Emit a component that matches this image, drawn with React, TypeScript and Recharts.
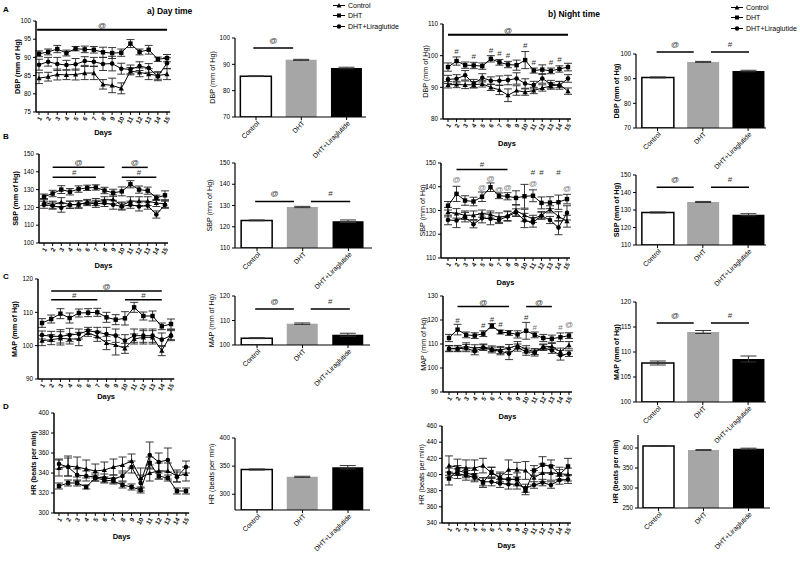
import React from 'react';
import {
  LineChart, Line, XAxis, YAxis, ErrorBar, ReferenceLine, ReferenceDot,
  BarChart, Bar, Cell, Legend,
} from 'recharts';

const FONT = '"Liberation Sans", Arial, Helvetica, sans-serif';

const days = [1, 2, 3, 4, 5, 6, 7, 8, 9, 10, 11, 12, 13, 14, 15];
const groups = ['Control', 'DHT', 'DHT+Liraglutide'];

// ---------- Day / night line data ----------
const dbpDayCtrl = [84.3, 84.7, 85.3, 85.2, 85.3, 85.7, 85.7, 82.6, 82.3, 81.5, 86.2, 85.9, 85.4, 85.0, 85.4];
const dbpDayDht = [91.0, 91.5, 92.3, 91.2, 92.4, 92.2, 92.1, 91.4, 91.2, 91.3, 93.8, 91.5, 92.1, 89.5, 89.8];
const dbpDayLira = [88.0, 88.8, 88.2, 87.9, 88.1, 89.0, 88.8, 88.2, 88.3, 86.9, 86.7, 87.6, 87.1, 84.8, 88.4];
const dbpDayCtrlE = [1.5, 1.2, 1.5, 1.3, 1.5, 1.8, 1.8, 1.3, 2.0, 1.5, 1.0, 1.2, 1.5, 1.0, 1.5];
const dbpDayDhtE = [0.8, 0.8, 1.0, 0.8, 0.6, 0.9, 0.9, 1.4, 1.5, 1.0, 1.1, 0.8, 1.2, 0.6, 1.0];
const dbpDayLiraE = [1.5, 1.2, 1.8, 1.3, 1.6, 1.2, 1.2, 1.8, 2.0, 1.5, 1.2, 1.2, 1.2, 1.2, 1.5];

const dbpNightCtrl = [90.8, 90.9, 90.8, 90.8, 91.1, 90.0, 89.2, 87.5, 89.0, 88.5, 89.0, 89.8, 90.4, 90.9, 88.8];
const dbpNightDht = [96.4, 98.3, 97.0, 96.9, 96.7, 99.0, 97.9, 97.2, 97.0, 98.6, 95.3, 95.6, 95.2, 95.8, 96.4];
const dbpNightLira = [92.5, 92.7, 93.8, 91.2, 93.0, 92.1, 92.1, 92.3, 92.8, 91.2, 90.7, 92.8, 91.0, 90.6, 92.8];
const dbpNightCtrlE = [1.0, 1.0, 1.2, 1.0, 1.0, 1.0, 1.5, 2.0, 1.5, 1.0, 1.0, 1.0, 1.0, 1.0, 1.0];
const dbpNightDhtE = [1.3, 1.3, 1.0, 1.0, 1.0, 1.0, 0.9, 1.0, 1.6, 2.7, 0.8, 1.5, 0.9, 1.0, 1.2];
const dbpNightLiraE = [1.3, 1.3, 1.5, 1.3, 1.3, 1.2, 1.5, 1.5, 1.8, 1.5, 1.2, 1.5, 1.2, 1.2, 1.2];

const sbpDayCtrl = [123.0, 121.5, 123.0, 121.5, 121.5, 123.0, 123.0, 124.0, 124.5, 121.0, 123.5, 123.5, 123.5, 122.5, 122.0];
const sbpDayDht = [126.0, 127.8, 130.0, 128.8, 130.3, 131.0, 131.2, 129.5, 128.2, 129.0, 133.0, 130.0, 129.4, 125.4, 126.8];
const sbpDayLira = [121.5, 121.0, 119.8, 121.5, 121.8, 122.5, 122.0, 122.5, 121.5, 120.5, 121.5, 120.5, 121.0, 116.0, 121.5];
const sbpDayCtrlE = [2.0, 2.0, 2.5, 2.0, 2.0, 1.5, 2.0, 2.0, 2.5, 2.0, 2.5, 2.5, 2.5, 2.0, 2.0];
const sbpDayDhtE = [1.5, 1.8, 2.2, 1.8, 1.8, 1.5, 1.5, 1.8, 2.0, 2.5, 2.0, 2.0, 2.0, 1.5, 2.5];
const sbpDayLiraE = [2.0, 2.0, 2.5, 2.0, 2.0, 1.5, 2.0, 2.0, 2.5, 2.0, 2.0, 2.5, 2.0, 2.0, 2.0];

const sbpNightCtrl = [129.3, 128.8, 128.0, 128.0, 128.7, 128.3, 127.0, 127.8, 130.0, 128.0, 126.5, 128.0, 130.5, 127.5, 125.5];
const sbpNightDht = [132.0, 137.0, 134.2, 133.8, 135.8, 139.8, 136.2, 136.0, 135.3, 136.0, 136.2, 133.2, 133.3, 133.5, 134.8];
const sbpNightLira = [126.0, 125.8, 127.2, 124.2, 126.8, 126.5, 126.0, 127.5, 129.2, 125.8, 125.0, 127.8, 126.0, 122.8, 129.0];
const sbpNightCtrlE = [2.0, 2.0, 1.8, 1.8, 1.5, 1.5, 2.0, 2.0, 2.5, 2.5, 1.5, 1.5, 1.5, 2.0, 2.5];
const sbpNightDhtE = [1.8, 3.2, 2.0, 1.8, 2.0, 1.8, 1.2, 1.5, 3.0, 5.0, 2.5, 2.5, 2.5, 3.0, 2.0];
const sbpNightLiraE = [2.0, 3.0, 2.0, 1.5, 2.0, 2.5, 1.5, 2.0, 1.5, 3.0, 2.0, 1.5, 1.5, 3.0, 3.0];

const mapDayCtrl = [101.5, 101.8, 102.2, 102.0, 102.0, 103.8, 102.8, 100.8, 100.2, 99.2, 102.0, 102.5, 102.5, 98.5, 103.3];
const mapDayDht = [106.8, 108.0, 109.6, 108.3, 109.8, 109.9, 110.0, 108.5, 107.8, 108.2, 111.5, 108.9, 108.9, 105.8, 106.5];
const mapDayLira = [103.2, 102.8, 102.8, 103.2, 103.5, 104.5, 104.0, 103.5, 103.0, 101.5, 103.0, 103.0, 103.0, 101.8, 103.0];
const mapDayCtrlE = [1.5, 1.5, 2.0, 1.5, 2.0, 1.0, 1.5, 2.0, 3.0, 1.5, 1.5, 2.0, 2.0, 1.5, 1.5];
const mapDayDhtE = [1.3, 1.2, 1.5, 1.5, 1.2, 1.2, 1.2, 1.5, 1.5, 2.0, 1.5, 1.2, 1.5, 1.0, 1.5];
const mapDayLiraE = [1.2, 1.5, 2.0, 2.0, 1.5, 1.0, 1.5, 2.0, 2.0, 1.8, 2.0, 2.0, 2.0, 2.0, 1.5];

const mapNightCtrl = [108.2, 108.2, 109.0, 108.2, 108.8, 108.0, 107.5, 108.3, 109.5, 107.8, 106.8, 108.8, 109.0, 106.8, 109.5];
const mapNightDht = [112.5, 116.0, 113.8, 113.5, 114.3, 117.5, 115.0, 114.6, 114.0, 115.5, 113.8, 112.5, 112.2, 112.8, 113.5];
const mapNightLira = [108.0, 108.0, 108.3, 107.0, 108.5, 107.5, 107.0, 106.0, 108.5, 106.8, 106.5, 108.5, 107.3, 105.3, 106.0];
const mapNightCtrlE = [1.2, 1.2, 1.5, 1.5, 1.2, 1.2, 1.5, 1.5, 1.5, 1.5, 1.2, 1.2, 1.2, 1.5, 1.5];
const mapNightDhtE = [1.5, 2.2, 1.2, 1.2, 1.2, 1.0, 0.8, 1.0, 1.5, 3.5, 1.2, 1.5, 1.5, 1.8, 1.2];
const mapNightLiraE = [1.2, 1.2, 1.5, 1.5, 1.2, 1.2, 1.5, 2.5, 1.5, 1.5, 1.5, 1.2, 1.2, 2.0, 1.2];

const hrDayCtrl = [345, 347, 346, 344, 342, 343, 346, 348, 352, 335, 340, 342, 342, 337, 339];
const hrDayDht = [327, 330, 330, 326, 335, 333, 332, 328, 326, 323, 350, 337, 335, 322, 322];
const hrDayLira = [349, 346, 338, 337, 336, 335, 334, 337, 346, 330, 358, 351, 353, 336, 346];
const hrDayCtrlE = [8, 10, 10, 9, 7, 8, 8, 8, 7, 10, 8, 8, 8, 6, 7];
const hrDayDhtE = [3, 3, 3, 2, 3, 3, 3, 3, 3, 3, 6, 3, 3, 3, 3];
const hrDayLiraE = [5, 9, 6, 5, 4, 4, 4, 5, 6, 8, 13, 9, 12, 5, 6];

const hrNightCtrl = [411, 409, 408, 408, 411, 402, 397, 406, 406, 405, 396, 402, 402, 401, 400];
const hrNightDht = [395, 405, 402, 399, 390, 403, 395, 394, 394, 380, 405, 412, 410, 400, 410];
const hrNightLira = [402, 401, 399, 396, 391, 391, 389, 388, 388, 383, 387, 390, 387, 393, 394];
const hrNightCtrlE = [12, 10, 10, 10, 9, 7, 6, 12, 9, 11, 9, 11, 9, 8, 8];
const hrNightDhtE = [8, 6, 6, 6, 6, 6, 6, 6, 8, 5, 6, 10, 8, 6, 10];
const hrNightLiraE = [6, 6, 6, 5, 5, 5, 5, 6, 6, 5, 4, 4, 4, 5, 5];

// ---------- Bar (mean) data ----------
const dbpDayMean = [85.5, 91.7, 88.6];
const dbpDayMeanE = [0.15, 0.2, 0.3];
const dbpNightMean = [90.5, 96.8, 93.1];
const dbpNightMeanE = [0.2, 0.2, 0.3];
const sbpDayMean = [123.0, 129.3, 122.6];
const sbpDayMeanE = [0.2, 0.3, 0.6];
const sbpNightMean = [128.6, 134.6, 127.3];
const sbpNightMeanE = [0.3, 0.3, 0.6];
const mapDayMean = [102.8, 108.7, 104.2];
const mapDayMeanE = [0.2, 0.3, 0.6];
const mapNightMean = [107.8, 114.0, 108.6];
const mapNightMeanE = [0.4, 0.3, 0.6];
const hrDayMean = [344, 331, 348];
const hrDayMeanE = [1, 1, 3];
const hrNightMean = [405, 395, 398];
const hrNightMeanE = [1, 1, 1.5];

type Seg = { from: number; to: number; y: number; t: string; w?: number };
type Ann = { x: number; y: number; t: string; c?: string };

// ---------- markers ----------
const triPath = (cx: number, cy: number, s: number) =>
  `M${cx},${cy - s}L${cx + s},${cy + s * 0.8}L${cx - s},${cy + s * 0.8}Z`;
const TriDot = (p: any) =>
  p.cx == null ? <g key={`t${p.index}`} /> : <path key={`t${p.index}`} d={triPath(p.cx, p.cy, 2.6)} fill="#000" />;
const SqDot = (p: any) =>
  p.cx == null ? <g key={`s${p.index}`} /> : <rect key={`s${p.index}`} x={p.cx - 2.2} y={p.cy - 2.2} width={4.4} height={4.4} fill="#000" />;
const CircDot = (p: any) =>
  p.cx == null ? <g key={`c${p.index}`} /> : <circle key={`c${p.index}`} cx={p.cx} cy={p.cy} r={2.3} fill="#000" />;

const DayTick = (p: any) => {
  const { x, y, payload } = p;
  return (
    <text x={x + 1} y={y} transform={`rotate(-60 ${x + 1} ${y})`} textAnchor="end" dominantBaseline="central" fontSize={6.3} fontWeight="bold" fill="#111">
      {payload.value}
    </text>
  );
};

const GroupTick = (p: any) => {
  const { x, y, payload } = p;
  return (
    <text x={x + 2} y={y} transform={`rotate(-45 ${x + 2} ${y})`} textAnchor="end" dominantBaseline="central" fontSize={6.8} fill="#000">
      {groups[payload.value]}
    </text>
  );
};

const yLabelContent = (text: string, gap: number, bold: boolean) => (props: any) => {
  const vb = props.viewBox;
  const x = vb.x + vb.width - gap;
  const y = vb.y + vb.height / 2;
  return (
    <text x={x} y={y} transform={`rotate(-90 ${x} ${y})`} textAnchor="middle" dominantBaseline="central" fontSize={7.2} fontWeight={bold ? 'bold' : 'normal'} fill="#000">
      {text}
    </text>
  );
};

const daysLabelContent = (gap: number) => (props: any) => {
  const vb = props.viewBox;
  return (
    <text x={vb.x + vb.width / 2} y={vb.y + gap} textAnchor="middle" dominantBaseline="central" fontSize={7.5} fontWeight="bold" fill="#000">
      Days
    </text>
  );
};

interface LineSpec {
  axisX: number; x1: number; x15: number; yTopPx: number; yBotPx: number;
  domain: [number, number]; ticks: number[];
  ctrl: number[]; dht: number[]; lira: number[]; ce: number[]; de: number[]; le: number[];
  label: string; bold: boolean; labelGap: number; daysGap: number;
  segs: Seg[]; anns: Ann[];
}

function LinePanel(s: LineSpec) {
  const YW = 40, MT = 12, MR = 8, XH = 48;
  const step = (s.x15 - s.x1) / 14;
  const dMin = 1 - (s.x1 - s.axisX) / step;
  const dMax = 15.35;
  const plotW = s.x15 + 0.35 * step - s.axisX;
  const plotH = s.yBotPx - s.yTopPx;
  const W = YW + plotW + MR;
  const H = MT + plotH + XH;
  const data = days.map((d, i) => ({
    day: d, c: s.ctrl[i], ce: s.ce[i], h: s.dht[i], he: s.de[i], l: s.lira[i], le: s.le[i],
  }));
  return (
    <div style={{ position: 'absolute', left: s.axisX - YW, top: s.yTopPx - MT }}>
      <LineChart width={W} height={H} data={data} margin={{ top: MT, right: MR, bottom: 0, left: 0 }}>
        <XAxis
          type="number" dataKey="day" domain={[dMin, dMax]} ticks={days} allowDataOverflow interval={0}
          height={XH} tick={<DayTick />} tickSize={3} tickLine={{ stroke: '#000', strokeWidth: 1 }}
          axisLine={{ stroke: '#000', strokeWidth: 1.5 }}
          label={{ content: daysLabelContent(s.daysGap) }}
        />
        <YAxis
          type="number" domain={s.domain} ticks={s.ticks} allowDataOverflow interval={0} width={YW}
          tick={{ fontSize: 6.3, fill: '#000' }} tickSize={3} tickLine={{ stroke: '#000', strokeWidth: 1 }}
          axisLine={{ stroke: '#000', strokeWidth: 1.5 }}
          label={{ content: yLabelContent(s.label, s.labelGap, s.bold) }}
        />
        <Line dataKey="c" stroke="#000" strokeWidth={1} dot={TriDot} activeDot={false} isAnimationActive={false}>
          <ErrorBar dataKey="ce" width={4} stroke="#222" strokeWidth={0.9} direction="y" />
        </Line>
        <Line dataKey="l" stroke="#000" strokeWidth={1} dot={CircDot} activeDot={false} isAnimationActive={false}>
          <ErrorBar dataKey="le" width={4} stroke="#222" strokeWidth={0.9} direction="y" />
        </Line>
        <Line dataKey="h" stroke="#000" strokeWidth={1} dot={SqDot} activeDot={false} isAnimationActive={false}>
          <ErrorBar dataKey="he" width={4} stroke="#222" strokeWidth={0.9} direction="y" />
        </Line>
        {s.segs.map((g, i) => (
          <ReferenceLine
            key={`seg${i}`}
            segment={[{ x: g.from, y: g.y }, { x: g.to, y: g.y }]}
            stroke="#000" strokeWidth={g.w ?? 1.5} ifOverflow="visible"
            label={{ value: g.t, position: 'top', fontSize: 8, fill: '#333', offset: 2 }}
          />
        ))}
        {s.anns.map((a, i) => (
          <ReferenceDot
            key={`ann${i}`} x={a.x} y={a.y} r={1} fill="none" stroke="none" ifOverflow="visible"
            label={{ value: a.t, position: 'center', fontSize: 8, fill: a.c ?? '#333' }}
          />
        ))}
      </LineChart>
    </div>
  );
}

const legendMarker = (i: number) => {
  if (i === 0) return <path d={triPath(7, 4.5, 2.4)} fill="#000" />;
  if (i === 1) return <rect x={5} y={2.5} width={4} height={4} fill="#000" />;
  return <circle cx={7} cy={4.5} r={2.2} fill="#000" />;
};

const LegendBox = () => (
  <div style={{ fontFamily: FONT, fontSize: 7, color: '#000' }}>
    {groups.map((g, i) => (
      <div key={g} style={{ display: 'flex', alignItems: 'center', height: 10.5, whiteSpace: 'nowrap' }}>
        <svg width={14} height={9} style={{ display: 'block' }}>
          <line x1={1} y1={4.5} x2={13} y2={4.5} stroke="#000" strokeWidth={1} />
          {legendMarker(i)}
        </svg>
        <span style={{ marginLeft: 2 }}>{g}</span>
      </div>
    ))}
  </div>
);

interface BarSpec {
  axisX: number; c0: number; sp: number; axisRight: number; yTopPx: number; yBotPx: number;
  domain: [number, number]; ticks: number[]; values: number[]; errs: number[];
  label: string; bold: boolean; labelGap: number; bw: number; segs: Seg[];
  legend?: { left: number; top: number };
}

const barFills = ['#ffffff', '#a6a6a6', '#000000'];
const barStrokes = ['#000', 'none', 'none'];

function BarPanel(s: BarSpec) {
  const YW = 40, MT = 24, MR = 6, XH = 60;
  const dMin = (s.axisX - s.c0) / s.sp;
  const dMax = (s.axisRight - s.c0) / s.sp;
  const plotW = s.axisRight - s.axisX;
  const plotH = s.yBotPx - s.yTopPx;
  const W = YW + plotW + MR;
  const H = MT + plotH + XH;
  const left = s.axisX - YW;
  const top = s.yTopPx - MT;
  const data = s.values.map((v, i) => ({ x: i, v, e: s.errs[i], name: groups[i] }));
  return (
    <div style={{ position: 'absolute', left, top }}>
      <BarChart width={W} height={H} data={data} margin={{ top: MT, right: MR, bottom: 0, left: 0 }}>
        <XAxis
          type="number" dataKey="x" domain={[dMin, dMax]} ticks={[0, 1, 2]} allowDataOverflow interval={0}
          height={XH} tick={<GroupTick />} tickSize={3} tickLine={{ stroke: '#000', strokeWidth: 1 }}
          axisLine={{ stroke: '#000', strokeWidth: 1.2 }}
        />
        <YAxis
          type="number" domain={s.domain} ticks={s.ticks} allowDataOverflow interval={0} width={YW}
          tick={{ fontSize: 6.3, fill: '#000' }} tickSize={3} tickLine={{ stroke: '#000', strokeWidth: 1 }}
          axisLine={{ stroke: '#000', strokeWidth: 1.2 }}
          label={{ content: yLabelContent(s.label, s.labelGap, s.bold) }}
        />
        <Bar dataKey="v" barSize={s.bw} isAnimationActive={false}>
          {data.map((d, i) => (
            <Cell key={d.name} fill={barFills[i]} stroke={barStrokes[i]} strokeWidth={1.5} />
          ))}
          <ErrorBar dataKey="e" width={8} stroke="#333" strokeWidth={1} direction="y" />
        </Bar>
        {s.segs.map((g, i) => (
          <ReferenceLine
            key={`bseg${i}`}
            segment={[{ x: g.from, y: g.y }, { x: g.to, y: g.y }]}
            stroke="#000" strokeWidth={1.5} ifOverflow="visible"
            label={{ value: g.t, position: 'top', fontSize: 8, fill: '#333', offset: 5 }}
          />
        ))}
        {s.legend ? (
          <Legend
            layout="vertical" align="center" verticalAlign="middle"
            wrapperStyle={{ position: 'absolute', left: s.legend.left - left, top: s.legend.top - top, width: 72, height: 32 }}
            content={() => <LegendBox />}
          />
        ) : null}
      </BarChart>
    </div>
  );
}

export default function App() {
  return (
    <div style={{ position: 'absolute', left: 0, top: 0, width: 800, height: 561, background: '#fff', overflow: 'hidden', fontFamily: FONT }}>
      {/* panel letters & titles */}
      <div style={{ position: 'absolute', left: 3, top: 5, fontSize: 8, fontWeight: 'bold' }}>A</div>
      <div style={{ position: 'absolute', left: 3, top: 132, fontSize: 8, fontWeight: 'bold' }}>B</div>
      <div style={{ position: 'absolute', left: 3, top: 272, fontSize: 8, fontWeight: 'bold' }}>C</div>
      <div style={{ position: 'absolute', left: 3, top: 402, fontSize: 8, fontWeight: 'bold' }}>D</div>
      <div style={{ position: 'absolute', left: 147, top: 6, fontSize: 8.5, fontWeight: 'bold' }}>a) Day time</div>
      <div style={{ position: 'absolute', left: 548, top: 9, fontSize: 8.5, fontWeight: 'bold' }}>b) Night time</div>

      {/* Row A */}
      <LinePanel
        axisX={36} x1={39} x15={167} yTopPx={21} yBotPx={112} domain={[75, 100]} ticks={[75, 80, 85, 90, 95, 100]}
        ctrl={dbpDayCtrl} dht={dbpDayDht} lira={dbpDayLira} ce={dbpDayCtrlE} de={dbpDayDhtE} le={dbpDayLiraE}
        label="DBP (mm of Hg)" bold labelGap={18} daysGap={21}
        segs={[{ from: 0.8, to: 15, y: 97.6, t: '@', w: 2 }]} anns={[]}
      />
      <BarPanel
        axisX={235} c0={256} sp={45.3} axisRight={366} yTopPx={38} yBotPx={117} domain={[70, 100]} ticks={[70, 80, 90, 100]}
        values={dbpDayMean} errs={dbpDayMeanE} label="DBP (mm of Hg)" bold={false} labelGap={23} bw={31}
        segs={[{ from: -0.06, to: 0.82, y: 96.2, t: '@' }]}
        legend={{ left: 332, top: 0 }}
      />
      <LinePanel
        axisX={443} x1={448} x15={568} yTopPx={24} yBotPx={119} domain={[80, 110]} ticks={[80, 90, 100, 110]}
        ctrl={dbpNightCtrl} dht={dbpNightDht} lira={dbpNightLira} ce={dbpNightCtrlE} de={dbpNightDhtE} le={dbpNightLiraE}
        label="DBP (mm of Hg)" bold={false} labelGap={18} daysGap={24}
        segs={[{ from: 1, to: 15, y: 106.6, t: '@', w: 2 }]}
        anns={[
          { x: 2, y: 101.5, t: '#' }, { x: 4, y: 99.8, t: '#' }, { x: 6, y: 101.8, t: '#' },
          { x: 7, y: 100.8, t: '#' }, { x: 8, y: 100.2, t: '#' }, { x: 10, y: 103.3, t: '#' },
          { x: 11, y: 98.0, t: '#' }, { x: 13, y: 98.0, t: '#' }, { x: 14, y: 98.8, t: '#' },
        ]}
      />
      <BarPanel
        axisX={636} c0={657.5} sp={45.3} axisRight={766} yTopPx={54} yBotPx={128} domain={[70, 100]} ticks={[70, 80, 90, 100]}
        values={dbpNightMean} errs={dbpNightMeanE} label="DBP (mm of Hg)" bold labelGap={20} bw={32}
        segs={[{ from: -0.02, to: 0.8, y: 100.8, t: '@' }, { from: 1.18, to: 2.02, y: 100.8, t: '#' }]}
        legend={{ left: 730, top: 2 }}
      />

      {/* Row B */}
      <LinePanel
        axisX={39} x1={44} x15={165} yTopPx={154} yBotPx={243} domain={[100, 150]} ticks={[100, 110, 120, 130, 140, 150]}
        ctrl={sbpDayCtrl} dht={sbpDayDht} lira={sbpDayLira} ce={sbpDayCtrlE} de={sbpDayDhtE} le={sbpDayLiraE}
        label="SBP (mm of Hg)" bold labelGap={23} daysGap={23}
        segs={[
          { from: 2, to: 8, y: 142.5, t: '@' }, { from: 2, to: 7, y: 137, t: '#' },
          { from: 10, to: 13, y: 142.5, t: '@' }, { from: 10, to: 14, y: 137, t: '#' },
        ]}
        anns={[]}
      />
      <BarPanel
        axisX={235} c0={257} sp={45.7} axisRight={372} yTopPx={163} yBotPx={248} domain={[110, 150]} ticks={[110, 120, 130, 140, 150]}
        values={sbpDayMean} errs={sbpDayMeanE} label="SBP (mm of Hg)" bold={false} labelGap={26} bw={31}
        segs={[{ from: -0.04, to: 0.81, y: 131.9, t: '@' }, { from: 1.18, to: 2.04, y: 131.9, t: '#' }]}
      />
      <LinePanel
        axisX={441} x1={448} x15={567} yTopPx={163} yBotPx={258} domain={[110, 150]} ticks={[110, 120, 130, 140, 150]}
        ctrl={sbpNightCtrl} dht={sbpNightDht} lira={sbpNightLira} ce={sbpNightCtrlE} de={sbpNightDhtE} le={sbpNightLiraE}
        label="SBP (mm of Hg)" bold={false} labelGap={18} daysGap={25}
        segs={[{ from: 2, to: 8, y: 147.3, t: '#' }]}
        anns={[
          { x: 2, y: 143, t: '@', c: '#777' }, { x: 5, y: 140, t: '@', c: '#777' }, { x: 6, y: 143.8, t: '@', c: '#777' },
          { x: 7, y: 139, t: '@', c: '#777' }, { x: 8, y: 140, t: '@', c: '#777' }, { x: 11, y: 141.4, t: '@', c: '#777' },
          { x: 15, y: 139.3, t: '@', c: '#777' },
          { x: 11, y: 146.2, t: '#' }, { x: 12, y: 146.2, t: '#' }, { x: 14, y: 146.2, t: '#' },
        ]}
      />
      <BarPanel
        axisX={636} c0={657.5} sp={45.3} axisRight={766} yTopPx={175} yBotPx={245} domain={[110, 150]} ticks={[110, 120, 130, 140, 150]}
        values={sbpNightMean} errs={sbpNightMeanE} label="SBP (mm of Hg)" bold labelGap={20} bw={32}
        segs={[{ from: -0.02, to: 0.8, y: 143, t: '@' }, { from: 1.18, to: 2.02, y: 143, t: '#' }]}
      />

      {/* Row C */}
      <LinePanel
        axisX={38} x1={42} x15={171} yTopPx={279} yBotPx={379} domain={[90, 120]} ticks={[90, 100, 110, 120]}
        ctrl={mapDayCtrl} dht={mapDayDht} lira={mapDayLira} ce={mapDayCtrlE} de={mapDayDhtE} le={mapDayLiraE}
        label="MAP  (mm of Hg)" bold labelGap={23} daysGap={18}
        segs={[
          { from: 2, to: 14, y: 116.4, t: '@' }, { from: 2, to: 7, y: 113.8, t: '#' }, { from: 10, to: 14, y: 113.8, t: '#' },
        ]}
        anns={[]}
      />
      <BarPanel
        axisX={235} c0={257} sp={45.5} axisRight={370} yTopPx={296} yBotPx={345} domain={[100, 120]} ticks={[100, 110, 120]}
        values={mapDayMean} errs={mapDayMeanE} label="MAP  (mm of Hg)" bold={false} labelGap={24} bw={31}
        segs={[{ from: -0.04, to: 0.81, y: 114.7, t: '@' }, { from: 1.18, to: 2.04, y: 114.7, t: '#' }]}
      />
      <LinePanel
        axisX={443} x1={449} x15={569} yTopPx={296} yBotPx={392} domain={[90, 130]} ticks={[90, 100, 110, 120, 130]}
        ctrl={mapNightCtrl} dht={mapNightDht} lira={mapNightLira} ce={mapNightCtrlE} de={mapNightDhtE} le={mapNightLiraE}
        label="MAP  (mm of Hg)" bold={false} labelGap={20} daysGap={24}
        segs={[{ from: 2, to: 8, y: 125.6, t: '@' }, { from: 10, to: 13, y: 125.6, t: '@' }]}
        anns={[
          { x: 2, y: 119.8, t: '#' }, { x: 5, y: 117.8, t: '#' }, { x: 6, y: 120.5, t: '#' }, { x: 7, y: 118.4, t: '#' },
          { x: 10, y: 121.2, t: '#' }, { x: 11, y: 117.2, t: '#', c: '#777' }, { x: 14, y: 117.2, t: '#', c: '#777' },
          { x: 15, y: 118.4, t: '@', c: '#777' },
        ]}
      />
      <BarPanel
        axisX={636} c0={657.5} sp={45.3} axisRight={766} yTopPx={302} yBotPx={402} domain={[100, 120]} ticks={[100, 105, 110, 115, 120]}
        values={mapNightMean} errs={mapNightMeanE} label="MAP  (mm of Hg)" bold labelGap={20} bw={32}
        segs={[{ from: -0.02, to: 0.8, y: 115.8, t: '@' }, { from: 1.18, to: 2.02, y: 115.8, t: '#' }]}
      />

      {/* Row D */}
      <LinePanel
        axisX={54} x1={59} x15={186} yTopPx={413} yBotPx={513} domain={[300, 400]} ticks={[300, 320, 340, 360, 380, 400]}
        ctrl={hrDayCtrl} dht={hrDayDht} lira={hrDayLira} ce={hrDayCtrlE} de={hrDayDhtE} le={hrDayLiraE}
        label="HR  (beats per min)" bold labelGap={20} daysGap={24}
        segs={[]} anns={[]}
      />
      <BarPanel
        axisX={235} c0={257} sp={45.5} axisRight={370} yTopPx={438} yBotPx={510} domain={[272, 400]} ticks={[300, 350, 400]}
        values={hrDayMean} errs={hrDayMeanE} label="HR  (beats per min)" bold={false} labelGap={24} bw={31}
        segs={[]}
      />
      <LinePanel
        axisX={442} x1={449} x15={568} yTopPx={426} yBotPx={523} domain={[340, 460]} ticks={[340, 360, 380, 400, 420, 440, 460]}
        ctrl={hrNightCtrl} dht={hrNightDht} lira={hrNightLira} ce={hrNightCtrlE} de={hrNightDhtE} le={hrNightLiraE}
        label="HR  (beats per min)" bold={false} labelGap={20} daysGap={23}
        segs={[]} anns={[]}
      />
      <BarPanel
        axisX={638} c0={658.5} sp={45} axisRight={770} yTopPx={435} yBotPx={508} domain={[250, 432.5]} ticks={[250, 300, 350, 400]}
        values={hrNightMean} errs={hrNightMeanE} label="HR  (beats per min)" bold labelGap={23} bw={31}
        segs={[]}
      />
    </div>
  );
}
